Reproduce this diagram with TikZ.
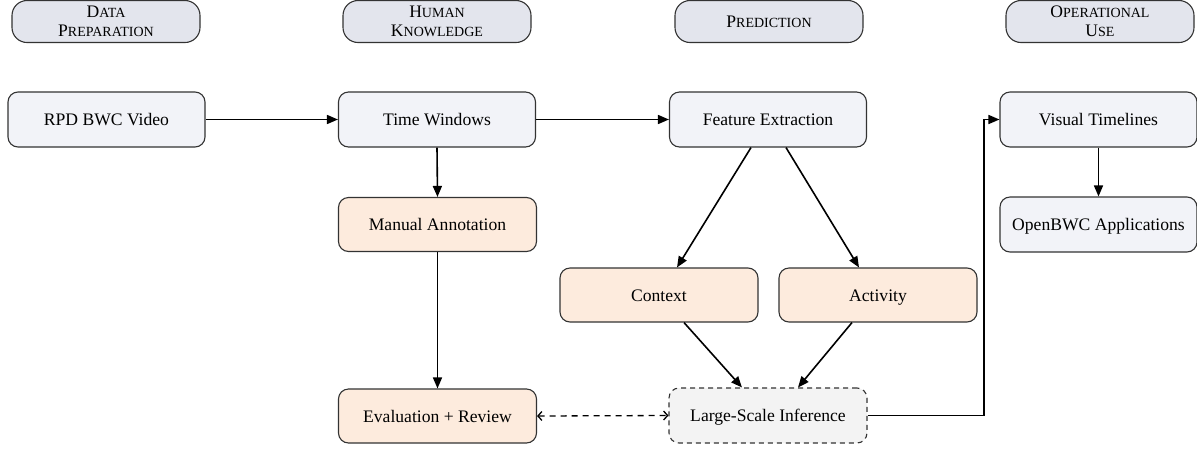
\documentclass[tikz,border=0pt]{standalone}
\usepackage{fontspec}
\setmainfont{Liberation Serif}
\usetikzlibrary{arrows.meta,positioning,calc}
\definecolor{mainfill}{HTML}{F2F3F8}
\definecolor{headfill}{HTML}{E3E5ED}
\definecolor{orfill}{HTML}{FDEBDD}
\definecolor{lsifill}{HTML}{F3F3F3}
\definecolor{bord}{HTML}{333333}
\newcommand{\hsc}[2]{#1{\fontsize{14}{20}\selectfont #2}}
\tikzset{
  base/.style={draw=bord, line width=1.1pt, rounded corners=10pt, minimum width=197pt, minimum height=55pt, inner sep=0pt, text height=16pt, text depth=4pt, align=center, font=\fontsize{17.6}{21}\selectfont},
  mainbox/.style={base, fill=mainfill},
  orbox/.style={base, fill=orfill, minimum width=198pt, minimum height=54pt},
  lsibox/.style={base, fill=lsifill, dash pattern=on 5pt off 4pt, minimum width=198pt},
  headbox/.style={draw=bord, line width=1.1pt, rounded corners=15pt, fill=headfill, minimum width=188pt, minimum height=42pt, inner sep=0pt, align=center, font=\fontsize{17.6}{19}\selectfont},
  arr/.style={line width=1.6pt, -{Triangle[length=11pt,width=9pt]}},
  darr/.style={line width=1.3pt, dash pattern=on 6pt off 5pt, {Straight Barb[length=4pt,width=9pt]}-{Straight Barb[length=4pt,width=9pt]}}
}
\begin{document}
\begin{tikzpicture}[x=1pt,y=-1pt]
\useasboundingbox (0,0) rectangle (1197,448);
% headers
\node[headbox] (dp) at (106,21.5) {\hsc{D}{ATA}\\\hsc{P}{REPARATION}};
\node[headbox] (hk) at (437,21.5) {\hsc{H}{UMAN}\\\hsc{K}{NOWLEDGE}};
\node[headbox] (pr) at (769,21.5) {\hsc{P}{REDICTION}};
\node[headbox] (ou) at (1100,21.5) {\hsc{O}{PERATIONAL}\\\hsc{U}{SE}};
% main nodes
\node[mainbox] (rpd) at (106.5,119.5) {RPD BWC Video};
\node[mainbox] (tw) at (437,119.5) {Time Windows};
\node[mainbox] (fe) at (768,119.5) {Feature Extraction};
\node[mainbox] (vt) at (1098.5,119.5) {Visual Timelines};
\node[orbox] (ma) at (437.5,224.5) {Manual Annotation};
\node[mainbox] (ob) at (1098.5,224.5) {OpenBWC Applications};
\node[orbox] (ctx) at (659,295) {Context};
\node[orbox] (act) at (878,295) {Activity};
\node[orbox] (ev) at (437.5,416) {Evaluation + Review};
\node[lsibox] (lsi) at (768,415.5) {Large-Scale Inference};
\coordinate (bend) at (984,0);
% connectors
\draw[arr] (rpd.east) -- (tw.west);
\draw[arr] (tw.east) -- (fe.west);
\draw[arr] (tw.south) -- (ma.north);
\draw[arr] (ma.south) -- (ev.north);
\draw[arr] ([xshift=-17pt]fe.south) -- ([xshift=18pt]ctx.north);
\draw[arr] ([xshift=18pt]fe.south) -- ([xshift=-19pt]act.north);
\draw[arr] ([xshift=25pt]ctx.south) -- ([xshift=-26pt]lsi.north);
\draw[arr] ([xshift=-26pt]act.south) -- ([xshift=30pt]lsi.north);
\draw[darr] (ev.east) -- (lsi.west);
\draw[arr] (lsi.east) -- (lsi.east -| bend) |- (vt.west);
\draw[arr] (vt.south) -- (ob.north);
\end{tikzpicture}
\end{document}
